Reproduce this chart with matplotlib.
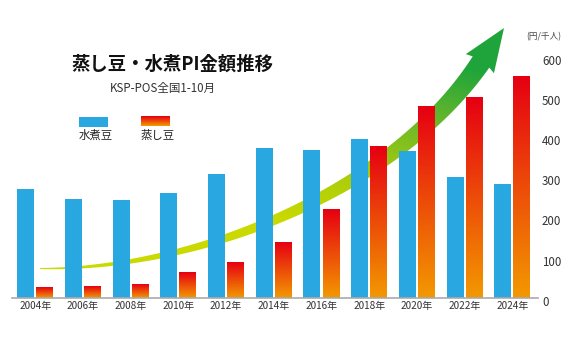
import matplotlib.pyplot as plt
import numpy as np
from matplotlib.colors import LinearSegmentedColormap
from matplotlib.patches import Polygon, Rectangle
from matplotlib.transforms import ScaledTranslation

plt.rcParams['font.family'] = ['Noto Sans CJK JP', 'DejaVu Sans']

# データ
years = ['2004年', '2006年', '2008年', '2010年', '2012年', '2014年',
         '2016年', '2018年', '2020年', '2022年', '2024年']
mizuni = [270, 246, 243, 262, 309, 372, 368, 395, 366, 301, 284]   # 水煮豆
mushi = [27, 29, 34, 63, 88, 139, 221, 377, 478, 501, 552]        # 蒸し豆
yticks = [0, 100, 200, 300, 400, 500, 600]

W, H = 578, 349
fig = plt.figure(figsize=(W / 100, H / 100), dpi=100)

# 背景用の軸（ピクセル座標）: 矢印と文字
bg = fig.add_axes([0, 0, 1, 1], zorder=0)
bg.set_xlim(0, W)
bg.set_ylim(H, 0)
bg.axis('off')

# 矢印の中心線（3次ベジェ）
P0, P1, P2, P3 = map(np.array, [(40, 268.5), (200, 270), (395, 190), (481, 62)])
t = np.linspace(0, 1, 200)[:, None]
c = (1 - t) ** 3 * P0 + 3 * (1 - t) ** 2 * t * P1 + 3 * (1 - t) * t ** 2 * P2 + t ** 3 * P3
d = np.gradient(c, axis=0)
d = d / np.linalg.norm(d, axis=1)[:, None]
n = np.column_stack([-d[:, 1], d[:, 0]])
w = (0.5 + 9.5 * t)
left = c + n * w
right = c - n * w
dend = d[-1]
nend = n[-1]
tip = P3 + dend * 41
barb_l = P3 + nend * 17 - dend * 2
barb_r = P3 - nend * 17 - dend * 2
pts = np.vstack([left, [barb_l], [tip], [barb_r], right[::-1]])
arrow = Polygon(pts, closed=True, facecolor='none', edgecolor='none')
bg.add_patch(arrow)

gx, gy = np.meshgrid(np.arange(W), np.arange(H))
gval = np.clip((225 - gy) / 195 + (gx - 300) / 900, 0, 1)
green = LinearSegmentedColormap.from_list('g', ['#cad900', '#a8cc0c', '#6cb92a', '#1ea43a'])
im = bg.imshow(gval, cmap=green, extent=(0, W, H, 0), aspect='auto', zorder=1)
im.set_clip_path(arrow)

# タイトルなど
bg.text(172.5, 64, '蒸し豆・水煮PI金額推移', fontsize=13.2, fontweight='bold',
        color='#111111', ha='center', va='center')
bg.text(163, 88.5, 'KSP-POS全国1-10月', fontsize=8.3, color='#333333',
        ha='center', va='center')
bg.text(543.5, 36.5, '(円/千人)', fontsize=6.2, color='#444444', ha='center', va='center')

# 凡例
bg.add_patch(Rectangle((79, 117), 29, 9.5, facecolor='#29a7e1', edgecolor='none'))
leg = bg.imshow(np.linspace(0, 1, 20)[:, None], cmap=LinearSegmentedColormap.from_list(
    'r', ['#e60012', '#f39800']), extent=(141, 170, 126.5, 117), aspect='auto')
bg.text(79, 135.5, '水煮豆', fontsize=8.2, color='#222222', ha='left', va='center')
bg.text(141, 135.5, '蒸し豆', fontsize=8.2, color='#222222', ha='left', va='center')

# メインの棒グラフ
x0, x1 = 12 / W, 538 / W
y0 = (H - 297.7) / H
y1 = (H - 57) / H
ax = fig.add_axes([x0, y0, x1 - x0, y1 - y0], zorder=2)
ax.patch.set_alpha(0)

x = np.arange(len(years))
bw = 0.356
ax.bar(x - 0.2, mizuni, width=bw, color='#29a7e1', zorder=2)
red = LinearSegmentedColormap.from_list('r', ['#f39800', '#e60012'])
bars = ax.bar(x + 0.2, mushi, width=bw, color='none', zorder=2)
grad = np.linspace(0, 1, 100)[:, None]
for b in bars:
    bx, by = b.get_x(), b.get_y()
    bwid, bh = b.get_width(), b.get_height()
    img = ax.imshow(grad, cmap=red, extent=(bx, bx + bwid, by, by + bh),
                    origin='lower', aspect='auto', zorder=2)
    img.set_clip_path(b)

ax.set_xlim(-0.49, 10.54)
ax.set_ylim(0, 600)
ax.set_xticks(x)
ax.set_xticklabels(years)
ax.set_yticks(yticks)
ax.yaxis.tick_right()
ax.tick_params(axis='both', length=0, colors='#333333')
ax.tick_params(axis='x', labelsize=7.2, pad=2.5)
ax.tick_params(axis='y', labelsize=8.3, pad=2.8)
for lab in ax.get_yticklabels():
    lab.set_horizontalalignment('left')
    lab.set_transform(lab.get_transform() + ScaledTranslation(0, -3 / 100, fig.dpi_scale_trans))
for s in ['top', 'left', 'right']:
    ax.spines[s].set_visible(False)
ax.spines['bottom'].set_color('#aaaaaa')
ax.spines['bottom'].set_linewidth(1.2)

fig.savefig('out.png', dpi=100)
